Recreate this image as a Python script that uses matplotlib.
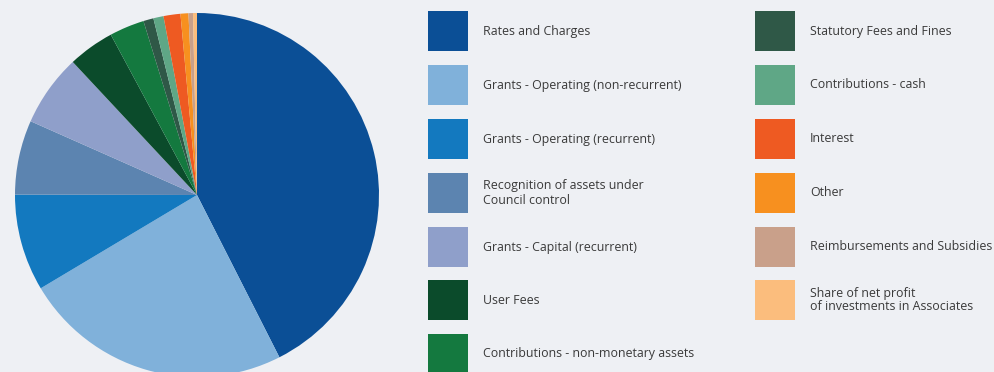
import matplotlib
matplotlib.use("Agg")
import matplotlib.pyplot as plt
from matplotlib.patches import Rectangle

# revenue sources, share of total (%)
categories = [
    "Rates and Charges",
    "Grants - Operating (non-recurrent)",
    "Grants - Operating (recurrent)",
    "Recognition of assets under\nCouncil control",
    "Grants - Capital (recurrent)",
    "User Fees",
    "Contributions - non-monetary assets",
    "Statutory Fees and Fines",
    "Contributions - cash",
    "Interest",
    "Other",
    "Reimbursements and Subsidies",
    "Share of net profit\nof investments in Associates",
]
shares = [42.5, 23.9, 8.6, 6.6, 6.4, 4.1, 3.1, 0.9, 0.9, 1.5, 0.7, 0.4, 0.35]
colors = [
    "#0b4f96", "#80b1da", "#1379bf", "#5c84b0", "#8f9fca",
    "#0b4b2b", "#14793f", "#2f5847", "#5fa786",
    "#ee5a22", "#f7901f", "#c9a08a", "#fbbd7d",
]

W, H = 995, 372
BG = "#eef0f4"

fig = plt.figure(figsize=(W / 100, H / 100), dpi=100, facecolor=BG)


def fx(px):
    return px / W


def fy(py):
    # pixel rows counted from the top
    return 1 - py / H


# pie: centre (197, 195), radius 182 px
cx, cy, r = 197, 195, 182
ax = fig.add_axes([fx(cx - r), fy(cy + r), 2 * r / W, 2 * r / H])
ax.pie(shares, colors=colors, startangle=90, counterclock=False,
       radius=1.0, wedgeprops=dict(linewidth=0))
ax.set_xlim(-1, 1)
ax.set_ylim(-1, 1)
ax.set_aspect("equal")
ax.axis("off")

# legend in two columns
rows_y = [31, 85, 139, 193, 247, 300, 354]
col_x = [428, 755]
sq = 40
for i, (name, col) in enumerate(zip(categories, colors)):
    c = 0 if i < 7 else 1
    row = i if i < 7 else i - 7
    x0 = col_x[c]
    yc = rows_y[row]
    fig.add_artist(Rectangle((fx(x0), fy(yc + sq / 2)), sq / W, sq / H,
                             transform=fig.transFigure, facecolor=col,
                             edgecolor="none"))
    fig.text(fx(x0 + 55), fy(yc), name, ha="left", va="center",
             fontsize=8.9, family="Open Sans", color="#3a3a3a",
             linespacing=1.1)

fig.savefig("out.png", dpi=100, facecolor=BG)
